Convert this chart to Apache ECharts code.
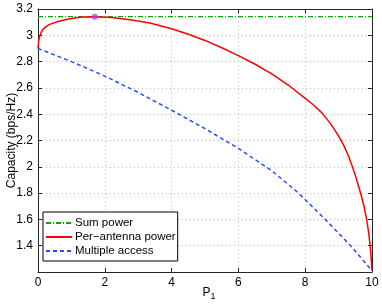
<!DOCTYPE html>
<html>
<head>
<meta charset="utf-8">
<script src="https://cdn.jsdelivr.net/npm/echarts@6/dist/echarts.min.js"></script>
<style>
html,body{margin:0;padding:0;background:#fff;}
#c{width:382px;height:305px;}
</style>
</head>
<body>
<div id="c"></div>
<script>
var sumPowerX = [0, 10];
var sumPowerY = [3.142, 3.142];

var perAntennaX = [0, 0.02, 0.05, 0.1, 0.15, 0.25, 0.35, 0.6, 0.85, 1.1, 1.35, 1.7, 2.2, 2.75, 3.35, 4, 4.5, 5, 5.5, 6, 6.5, 7, 7.5, 8, 8.25, 8.5, 8.75, 9, 9.15, 9.3, 9.4, 9.5, 9.6, 9.68, 9.76, 9.84, 9.9, 9.94, 9.97, 10];
var perAntennaY = [2.90, 2.96, 2.99, 3.025, 3.045, 3.068, 3.083, 3.105, 3.12, 3.132, 3.139, 3.142, 3.136, 3.118, 3.094, 3.05, 3.008, 2.961, 2.905, 2.845, 2.78, 2.706, 2.62, 2.52, 2.47, 2.41, 2.33, 2.235, 2.165, 2.08, 2.01, 1.935, 1.85, 1.78, 1.70, 1.60, 1.50, 1.41, 1.32, 1.21];

var multiAccessX = [0, 1, 2, 3, 4, 5, 6, 7, 7.8, 8.6, 9.36, 10];
var multiAccessY = [2.90, 2.80, 2.69, 2.565, 2.43, 2.29, 2.14, 1.97, 1.80, 1.60, 1.40, 1.21];

var optimumX = [1.7];
var optimumY = [3.142];

var seriesNames = ['Sum power', 'Per\u2212antenna power', 'Multiple access'];

function pairs(xs, ys) { return xs.map(function (x, i) { return [x, ys[i]]; }); }

var font = 'Liberation Sans, Arial, Helvetica, sans-serif';
var axisColor = '#262626';
var chart = echarts.init(document.getElementById('c'), null, { renderer: 'canvas' });
chart.setOption({
  animation: false,
  backgroundColor: '#ffffff',
  textStyle: { fontFamily: font },
  grid: { left: 38, right: 10, top: 9, bottom: 33, show: false, containLabel: false, outerBoundsMode: 'none' },
  legend: {
    data: seriesNames,
    orient: 'vertical',
    left: 43,
    top: 212,
    padding: [5, 2, 4, 2],
    itemGap: 2,
    itemWidth: 26,
    itemHeight: 13,
    borderColor: '#000',
    borderWidth: 1,
    borderRadius: 0,
    backgroundColor: '#fff',
    itemStyle: { opacity: 0 },
    textStyle: { fontFamily: font, fontSize: 11.5, color: '#000', padding: [0, 0, 0, -2] },
    selectedMode: false
  },
  xAxis: [{
    type: 'value', min: 0, max: 10, interval: 2,
    name: 'P{sub|1}',
    nameLocation: 'middle', nameGap: 12, nameMoveOverlap: false,
    nameTextStyle: { fontFamily: font, fontSize: 12, color: '#000', padding: [0, 0, 0, 8],
      rich: { sub: { fontSize: 9, verticalAlign: 'bottom', padding: [8, 0, 0, 0], fontFamily: font } } },
    axisLine: { show: true, onZero: false, lineStyle: { color: axisColor, width: 1 } },
    axisTick: { show: true, inside: true, length: 4, lineStyle: { color: axisColor } },
    axisLabel: { fontFamily: font, fontSize: 12, color: '#000', margin: 5 },
    splitLine: { show: true, lineStyle: { color: '#bdbdbd', type: [1, 3], width: 1 } }
  }, {
    type: 'value', min: 0, max: 10, interval: 2, position: 'top',
    axisLine: { show: true, onZero: false, lineStyle: { color: axisColor, width: 1 } },
    axisTick: { show: true, inside: true, length: 4, lineStyle: { color: axisColor } },
    axisLabel: { show: false },
    splitLine: { show: false }
  }],
  yAxis: [{
    type: 'value', min: 1.2, max: 3.2, interval: 0.2,
    name: 'Capacity (bps/Hz)',
    nameLocation: 'middle', nameGap: 20, nameMoveOverlap: false,
    nameTextStyle: { fontFamily: font, fontSize: 12, color: '#000' },
    axisLine: { show: true, onZero: false, lineStyle: { color: axisColor, width: 1 } },
    axisTick: { show: true, inside: true, length: 4, lineStyle: { color: axisColor } },
    axisLabel: { fontFamily: font, fontSize: 12, color: '#000', margin: 5,
      formatter: function (v) { return Math.abs(v - 1.2) < 1e-6 ? '' : String(Math.round(v * 10) / 10); } },
    splitLine: { show: true, lineStyle: { color: '#bdbdbd', type: [1, 3], width: 1 } }
  }, {
    type: 'value', min: 1.2, max: 3.2, interval: 0.2, position: 'right',
    axisLine: { show: true, onZero: false, lineStyle: { color: axisColor, width: 1 } },
    axisTick: { show: true, inside: true, length: 4, lineStyle: { color: axisColor } },
    axisLabel: { show: false },
    splitLine: { show: false }
  }],
  series: [{
    name: seriesNames[0], type: 'line', data: pairs(sumPowerX, sumPowerY),
    showSymbol: false, symbol: 'none', z: 3,
    itemStyle: { color: '#00aa00' },
    lineStyle: { color: '#00aa00', width: 1.2, type: [5, 2, 1, 2] }
  }, {
    name: seriesNames[1], type: 'line', data: pairs(perAntennaX, perAntennaY),
    showSymbol: false, symbol: 'none', smooth: false, z: 4,
    itemStyle: { color: '#ff0000' },
    lineStyle: { color: '#ff0000', width: 1.5, type: 'solid', join: 'round' }
  }, {
    name: seriesNames[2], type: 'line', data: pairs(multiAccessX, multiAccessY),
    showSymbol: false, symbol: 'none', smooth: false, z: 4,
    itemStyle: { color: '#2a4bff' },
    lineStyle: { color: '#2a4bff', width: 1.5, type: [4, 3] }
  }, {
    name: 'optimum', type: 'scatter', data: pairs(optimumX, optimumY),
    symbol: 'circle', symbolSize: 6, z: 5,
    itemStyle: { color: '#cc33ff' }
  }]
});
</script>
</body>
</html>
